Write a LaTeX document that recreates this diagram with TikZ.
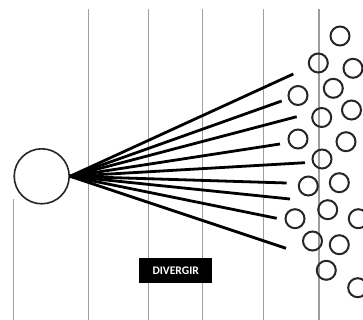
\documentclass[tikz,border=0pt]{standalone}
\usepackage{fontspec}
\setmainfont{Carlito}
\usepackage{tikz}
\usetikzlibrary{positioning, calc}

\begin{document}
\begin{tikzpicture}[x=1pt, y=-1pt,
    grid/.style={draw=black!38, line width=1.1pt},
    bubble/.style={circle, draw=black!85, line width=2pt, minimum size=19pt, inner sep=0pt},
    ray/.style={line width=2.8pt, black}]
    \useasboundingbox (0,0) rectangle (363,320);

    % Vertical guide lines
    \foreach \x in {88.3, 148.3, 202.7, 263.3, 319} {
        \draw[grid] (\x,9) -- (\x,320);
    }
    \draw[grid] (13.3,199) -- (13.3,320);

    % Source circle
    \node[circle, draw=black!85, fill=white, line width=1.6pt, minimum size=55pt, inner sep=0pt] (src) at (41.7,176.3) {};

    % Ideas spreading out
    \foreach \n/\x/\y in {a/340/36, b/318.3/63, c/353/68.3, d/298/95.5, e/333.3/88.3,
                          f/351.5/110, g/321.7/117.5, h/298/139, i/346/141.7, j/322/159,
                          k/308.3/186, l/339.3/182.7, m/327.7/209.7, n/295/218.7, o/358.3/218.7,
                          p/312.5/241, q/339.3/244.7, r/326.3/270.3, s/357.7/287.7} {
        \node[bubble] (\n) at (\x,\y) {};
    }

    % Ray ends
    \coordinate (r1) at (293.3,74);
    \coordinate (r2) at (281.7,101);
    \coordinate (r3) at (296.7,116.7);
    \coordinate (r4) at (280,144);
    \coordinate (r5) at (305,162.7);
    \coordinate (r6) at (286.7,183);
    \coordinate (r7) at (290,199);
    \coordinate (r8) at (276.7,218.3);
    \coordinate (r9) at (286,248.3);

    \foreach \j in {1,...,9} {
        \draw[ray] (src.east) -- (r\j);
    }

    % Label
    \node[fill=black, text=white, font=\bfseries\fontsize{11.6}{12}\selectfont,
          minimum width=73.5pt, minimum height=25.5pt, inner sep=0pt] (lbl) at (175.7,270.7) {DIVERGIR};
\end{tikzpicture}
\end{document}
